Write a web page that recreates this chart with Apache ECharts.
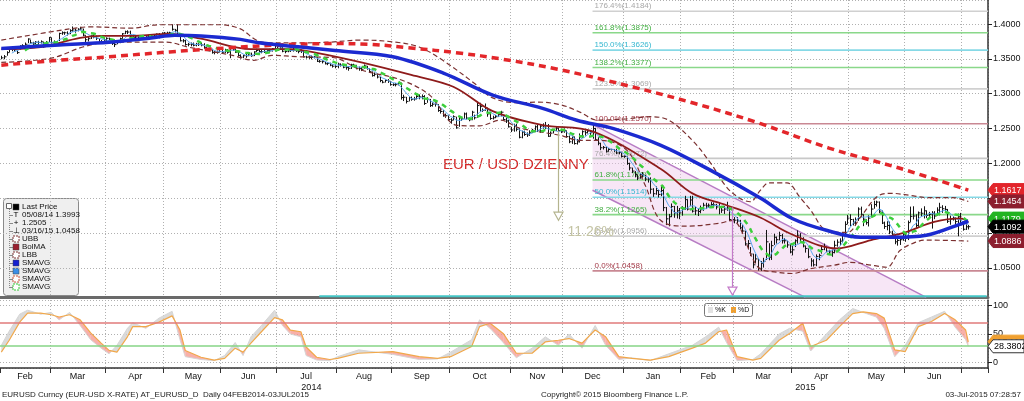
<!DOCTYPE html>
<html><head><meta charset="utf-8">
<script src="https://cdn.jsdelivr.net/npm/echarts@6/dist/echarts.min.js"></script>
<style>html,body{margin:0;padding:0;background:#fff}#c{width:1024px;height:401px}</style>
</head><body><div id="c"></div>
<script>
// ================= DATA =================
const startDate = '2014-02-04', endDate = '2015-07-03';
const padDays = 7;
const monthNames = ['Jan','Feb','Mar','Apr','May','Jun','Jul','Aug','Sep','Oct','Nov','Dec'];
// daily close, in pips above 1.0000
const closePips = [
 3515,3530,3590,3635,3640,3630,3590,3685,3690,3710,3785,3730,3715,3740,3735,3745,3675,3730,3805,
 3735,3740,3730,3865,3875,3875,3860,3905,3915,3910,3925,3930,3840,3775,3790,3830,3825,3795,3740,3750,3770,
 3795,3765,3720,3705,3735,3790,3860,3890,3885,3815,3810,3815,3815,3810,3795,3815,3815,3830,3830,3855,3810,3870,
 3870,3870,3875,3925,3910,3835,3760,3760,3705,3710,3710,3695,3710,3705,3700,3665,3630,3635,3590,3595,3595,3635,
 3595,3630,3595,3660,3640,3595,3550,3525,3545,3545,3570,3545,3600,3620,3605,3605,3605,3620,3615,3645,3690,
 3675,3655,3610,3605,3615,3620,3640,3615,3605,3610,3530,3525,3520,3523,3527,3465,3465,3460,3430,3435,3410,3395,3390,
 3425,3410,3380,3375,3365,3415,3410,3365,3360,3350,3400,3360,3320,3260,3280,3240,3190,3165,3190,3180,3130,
 3130,3130,3150,2945,2950,2890,2945,2920,2925,2960,2955,2960,2860,2920,2830,2850,2845,2760,2745,2685,2685,2630,
 2620,2670,2510,2655,2640,2710,2650,2625,2735,2655,2830,2815,2760,2800,2710,2645,2655,2670,2700,2735,2630,2610,2525,
 2480,2545,2490,2375,2450,2415,2410,2440,2475,2525,2470,2535,2540,2545,2390,2435,2470,2505,2470,2455,
 2470,2385,2310,2380,2285,2310,2380,2455,2440,2465,2440,2500,2340,2290,2225,2230,2175,2200,2200,2185,2150,2160,2100,
 2100,2000,1935,1890,1840,1790,1840,1835,1775,1775,1630,1565,1610,1555,1610,1365,1205,1235,1380,1290,1320,1290,
 1345,1480,1345,1475,1315,1320,1310,1335,1400,1390,1400,1410,1405,1375,1380,1330,1345,1360,1195,1195,
 1185,1175,1075,1030,845,850,700,545,630,495,565,595,875,655,820,940,905,965,890,890,830,730,
 760,890,970,920,815,780,660,600,545,665,680,765,805,740,730,720,825,870,885,985,1125,1215,
 1195,1145,1190,1345,1270,1200,1150,1215,1345,1410,1445,1315,1145,1095,1110,1015,985,875,895,905,985,
 925,1150,1240,1245,1110,1290,1285,1320,1255,1265,1285,1245,1330,1370,1350,1340,1170,1200,1205,1165,1235,1150,
 1055,1090,1092
];
// daily high minus close (pips)
const hiOffPips = [
 30,25,20,15,20,25,40,10,20,25,10,45,30,15,25,20,70,25,10,
 70,25,20,10,20,15,35,20,50,25,15,30,95,65,25,10,25,40,55,20,30,
 15,40,60,30,20,15,10,15,25,90,20,25,25,15,25,15,30,15,15,10,60,10,
 15,20,15,70,20,158,85,25,70,20,25,40,20,20,30,60,45,15,55,20,25,10,
 45,15,45,20,40,55,70,40,15,30,25,45,10,25,35,30,25,20,30,10,10,
 25,40,70,20,20,20,20,35,25,25,85,20,30,25,15,60,20,20,35,20,35,25,30,
 20,25,35,40,30,15,20,50,30,35,20,40,40,60,25,45,50,25,15,30,50,
 20,25,15,215,35,65,20,40,30,25,35,30,120,30,95,25,30,90,45,80,30,60,
 30,20,160,20,30,20,80,40,20,45,57,55,30,60,80,80,30,25,20,20,40,50,100,
 45,25,80,130,20,55,35,35,20,20,85,20,35,50,175,25,25,20,40,35,
 30,85,90,20,100,40,50,20,35,15,40,70,170,85,70,20,60,20,10,20,60,20,60,
 15,100,75,50,50,50,20,40,60,30,170,80,60,60,80,315,170,40,45,100,70,70,
 40,55,140,60,220,60,50,60,35,45,25,35,35,45,65,60,40,90,170,45,
 45,55,115,85,190,50,100,160,70,145,35,50,170,200,70,50,45,55,100,40,60,110,
 55,20,70,80,125,40,120,40,80,30,25,60,45,60,30,40,65,40,40,30,45,45,
 75,60,35,25,110,70,50,40,70,55,20,140,180,70,60,150,50,95,40,45,25,
 80,30,140,140,160,20,70,65,70,40,30,70,40,65,50,50,175,50,40,60,45,140,
 100,35,25
];
// daily close minus low (pips)
const loOffPips = [
 20,35,45,40,30,25,20,55,25,20,60,15,25,30,30,25,15,35,65,
 15,30,30,110,30,30,25,50,25,35,30,20,15,35,40,45,30,25,15,30,25,
 40,15,20,35,25,65,70,35,30,15,30,25,25,20,15,25,25,30,25,35,15,60,
 20,45,25,20,30,5,10,25,15,30,30,15,30,20,20,20,15,20,15,30,20,40,
 25,45,20,150,25,10,15,20,35,30,30,15,60,20,15,25,20,30,25,40,45,
 25,20,15,25,20,20,35,15,25,25,10,20,20,30,20,10,20,25,10,25,15,20,25,
 60,20,15,30,35,60,25,15,30,25,40,15,15,15,30,20,25,15,30,25,15,
 20,25,30,30,55,30,55,20,25,40,35,40,20,50,20,35,30,20,30,15,30,20,
 50,50,10,130,30,70,20,20,115,25,175,75,20,45,40,20,25,20,35,60,20,30,10,
 30,90,30,15,90,20,30,45,40,55,20,95,40,50,10,50,40,40,20,20,
 30,15,20,100,15,40,80,90,40,35,30,145,15,30,35,30,20,30,15,20,15,30,15,
 20,20,35,30,40,30,60,40,30,50,65,45,60,45,80,50,90,137,150,70,110,90,
 95,145,20,85,20,60,65,50,80,45,35,50,40,35,110,40,70,40,20,35,
 45,35,20,30,25,85,30,50,60,33,107,90,260,45,205,110,55,70,40,40,40,20,
 80,90,120,40,20,60,20,80,25,140,70,60,50,15,45,60,115,65,60,125,180,85,
 95,35,80,170,35,100,30,120,120,60,65,30,15,35,70,30,35,35,75,75,95,
 50,250,80,50,40,200,50,110,40,50,220,45,80,115,60,50,25,80,25,45,280,40,
 20,45,40
];
// indicator curves: [trading-day index, value]
const sma200Pts = [[0,1.341],[22,1.348],[41,1.353],[64,1.360],[87,1.366],[106,1.370],[125,1.372],[140,1.371],[155,1.366],[175,1.358],[190,1.350],[212,1.335],[240,1.310],[264,1.286],[289,1.257],[315,1.222],[342,1.193],[368,1.1617]];
const smaBluePts = [[0,1.365],[22,1.370],[41,1.374],[57,1.380],[66,1.384],[76,1.383],[91,1.378],[98,1.373],[114,1.367],[127,1.362],[149,1.353],[168,1.330],[187,1.298],[206,1.279],[219,1.262],[233,1.250],[251,1.226],[270,1.190],[289,1.150],[301,1.121],[314,1.104],[327,1.094],[339,1.094],[352,1.097],[365,1.113],[368,1.117]];
const bolMAPts = [[0,1.364],[15,1.367],[30,1.380],[38,1.383],[49,1.383],[64,1.386],[76,1.379],[95,1.364],[110,1.364],[121,1.358],[137,1.345],[156,1.327],[172,1.310],[187,1.275],[206,1.255],[225,1.246],[251,1.192],[263,1.157],[276,1.140],[289,1.122],[301,1.098],[318,1.078],[331,1.090],[343,1.100],[355,1.116],[365,1.121],[368,1.116]];
const ubbPts = [[0,1.377],[26,1.393],[34,1.396],[49,1.394],[60,1.399],[76,1.399],[83,1.399],[91,1.393],[97,1.377],[102,1.373],[114,1.373],[125,1.374],[137,1.377],[150,1.374],[159,1.367],[168,1.348],[180,1.315],[187,1.294],[197,1.287],[204,1.288],[213,1.284],[220,1.274],[227,1.262],[238,1.264],[247,1.267],[254,1.262],[263,1.233],[270,1.200],[276,1.166],[281,1.150],[285,1.145],[289,1.162],[292,1.172],[299,1.172],[304,1.151],[308,1.133],[314,1.104],[322,1.101],[327,1.123],[334,1.154],[339,1.157],[346,1.154],[352,1.151],[362,1.151],[368,1.1454]];
const lbbPts = [[0,1.345],[19,1.351],[31,1.367],[41,1.374],[63,1.374],[71,1.367],[88,1.355],[96,1.348],[103,1.355],[114,1.353],[126,1.352],[137,1.334],[152,1.320],[163,1.298],[173,1.255],[178,1.254],[182,1.254],[190,1.262],[197,1.251],[213,1.240],[220,1.233],[228,1.233],[238,1.219],[245,1.169],[251,1.118],[261,1.110],[273,1.114],[278,1.118],[288,1.051],[295,1.044],[301,1.042],[308,1.049],[317,1.054],[323,1.058],[331,1.054],[337,1.051],[342,1.075],[348,1.087],[352,1.090],[368,1.0886]];
// Fibonacci retracement levels
const fibPct = ['176.4%','161.8%','150.0%','138.2%','123.6%','100.0%','76.4%','61.8%','50.0%','38.2%','23.6%','0.0%'];
const fibVal = [1.4184,1.3875,1.3626,1.3377,1.3069,1.2570,1.2072,1.1763,1.1514,1.1265,1.0956,1.0458];
const fibStartIdx = 225;
// descending channel [index, price]
const channelUpper = [[225,1.2560],[352,1.0077]];
const channelLower = [[225,1.1615],[306,1.0077]];
// vertical arrows: [index, from, to]
const arrowDefs = [[212,1.2470,1.1185],[278,1.1370,1.0110]];
const arrowLabels = ['11.26%',''];
// horizontal cyan level
const cyanLine = [[121,1.0095],[375,1.0095]];
// last-value tags on the price axis
const mainTagVals = [1.1617,1.1454,1.1179,1.1092,1.0886];
// stochastic oscillator
const stochIdx = [0,3,7,10,15,19,22,26,30,34,38,41,44,48,50,55,60,65,68,70,76,81,85,89,92,95,99,104,107,110,114,116,120,125,128,136,149,159,166,171,179,182,186,191,196,202,207,212,216,221,226,230,235,240,247,254,263,268,273,276,280,286,289,296,300,305,308,314,319,324,328,333,336,340,344,349,354,359,363,367,368];
const stochD = [18,39,71,87,87,84,80,84,75,52,34,21,18,45,63,63,71,82,57,21,9,4,7,25,18,34,54,79,75,57,54,27,9,5,7,16,19,10,7,10,28,63,69,51,16,16,36,39,42,34,57,45,10,7,4,10,25,34,54,57,10,4,7,39,51,69,28,39,63,86,89,86,78,22,19,63,72,86,75,57,36];
const stochK = [30,55,85,92,85,88,75,88,65,40,25,15,30,60,70,60,78,90,40,10,5,3,12,35,12,45,65,92,65,50,45,12,4,3,10,22,14,5,6,18,40,75,60,35,8,25,45,30,50,25,65,30,5,8,3,15,30,45,62,35,3,5,15,50,60,55,20,50,75,95,88,80,60,10,30,70,80,90,62,40,28.38];
const stochTagVals = [36.5, 28.3802];
const stochLevels = [70, 30];
// ================= END DATA =================

const FONT = 'Liberation Sans, Arial, sans-serif';
// trading-day categories
const dates = [];
for (let d = new Date(startDate + 'T00:00:00Z'); d <= new Date(endDate + 'T00:00:00Z'); d.setUTCDate(d.getUTCDate() + 1)) {
  const wd = d.getUTCDay(); if (wd === 0 || wd === 6) continue;
  dates.push(d.toISOString().slice(0, 10));
}
const cats = dates.concat(Array.from({length: padDays}, (_, i) => 'pad' + i));
const monthStarts = new Set();
const segs = [];
dates.forEach((d, i) => { if (i === 0 || d.slice(0, 7) !== dates[i - 1].slice(0, 7)) { monthStarts.add(i); segs.push(i); } });
const labelMap = {};
segs.forEach((s, k) => {
  const e = k + 1 < segs.length ? segs[k + 1] : dates.length;
  if (e - s < 10) return;
  labelMap[s + Math.floor((e - s) / 2)] = monthNames[+dates[s].slice(5, 7) - 1];
});
// year labels centred on the visible span of each year
const years = {};
cats.forEach((c, i) => { const y = c.startsWith('pad') ? dates[dates.length - 1].slice(0, 4) : c.slice(0, 4); (years[y] = years[y] || []).push(i); });
Object.keys(years).forEach(y => { const a = years[y]; labelMap[a[0] + Math.floor((a[a.length - 1] - a[0]) / 2)] = '\n' + y; });

const px = p => 1 + p / 1e4;
const barData = closePips.map((c, i) => [i, px(c - loOffPips[i]), px(c + hiOffPips[i]), px(c)]);
const closes = closePips.map(px);
function sma(arr, n) { return arr.map((_, i) => i < n - 1 ? null : [i, arr.slice(i - n + 1, i + 1).reduce((a, b) => a + b, 0) / n]).filter(Boolean); }

function xAxisCfg(g) {
  return {
    type: 'category', gridIndex: g, data: cats, boundaryGap: true,
    axisLine: {show: true, onZero: false, lineStyle: g === 0 ? {color: '#6a6a6a', width: 3} : {color: '#333', width: 1.5}},
    axisTick: {show: g === 1, interval: i => monthStarts.has(i), length: 5, lineStyle: {color: '#333'}},
    splitLine: {show: true, interval: i => monthStarts.has(i) && i > 0, lineStyle: {color: '#b0b0b0', type: [1, 2]}},
    axisLabel: {show: g === 1, interval: i => labelMap[i] !== undefined, formatter: (v, i) => labelMap[i] || '',
      color: '#111', fontSize: 9, lineHeight: 11, margin: 3, fontFamily: FONT}
  };
}
function lineS(data, color, width, type, smooth, z) {
  return {type: 'line', xAxisIndex: 0, yAxisIndex: 0, data, symbol: 'none', smooth: smooth ? 0.35 : false, z: z || 3,
    lineStyle: {color, width, type: type || 'solid'}, silent: true};
}
const fibLine = ['#d0d0d0','#8ad88a','#86d9e6','#8ad88a','#d0d0d0','#c98893','#c8c8c8','#8ad88a','#86d9e6','#8ad88a','#d0d0d0','#c98893'];
const fibText = ['#a8a8a8','#3fae3f','#35b7d0','#3fae3f','#a8a8a8','#a33a48','#a8a8a8','#3fae3f','#35b7d0','#3fae3f','#a8a8a8','#a33a48'];

function tagRenderer(vals, fills, txt, strokes, shifts) {
  return function (params, api) {
    const i = params.dataIndex;
    const y = api.coord([api.value(0), api.value(1)])[1] + shifts[i];
    const x0 = params.coordSys.x + params.coordSys.width;
    const h = 13, w = 36, n = 5;
    return {type: 'group', children: [
      {type: 'polygon', shape: {points: [[x0, y], [x0 + n, y - h / 2], [x0 + w, y - h / 2], [x0 + w, y + h / 2], [x0 + n, y + h / 2]]},
        style: {fill: fills[i], stroke: strokes[i], lineWidth: 1}},
      {type: 'text', style: {text: vals[i].toFixed(4), x: x0 + n + 1, y: y + 0.5, verticalAlign: 'middle', fill: txt[i], font: '9px ' + FONT}}
    ]};
  };
}

const series = [
  // channel
  {type: 'custom', xAxisIndex: 0, yAxisIndex: 0, data: [[channelUpper[0][0], channelUpper[0][1]]], z: 1, silent: true,
    renderItem(params, api) {
      const u0 = api.coord(channelUpper[0]), u1 = api.coord(channelUpper[1]);
      const l0 = api.coord(channelLower[0]), l1 = api.coord(channelLower[1]);
      return {type: 'group', children: [
        {type: 'polygon', shape: {points: [u0, u1, l1, l0]}, style: {fill: 'rgba(238,200,236,0.45)'}},
        {type: 'line', shape: {x1: u0[0], y1: u0[1], x2: u1[0], y2: u1[1]}, style: {stroke: '#b77cc4', lineWidth: 1.5}},
        {type: 'line', shape: {x1: l0[0], y1: l0[1], x2: l1[0], y2: l1[1]}, style: {stroke: '#b77cc4', lineWidth: 1.5}}
      ]};
    }},
  // fib levels
  {type: 'custom', xAxisIndex: 0, yAxisIndex: 0, data: fibVal.map(v => [fibStartIdx, v]), z: 1, silent: true,
    renderItem(params, api) {
      const i = params.dataIndex;
      const p = api.coord([api.value(0), api.value(1)]);
      const xr = params.coordSys.x + params.coordSys.width;
      return {type: 'group', children: [
        {type: 'line', shape: {x1: p[0], y1: p[1], x2: xr, y2: p[1]}, style: {stroke: fibLine[i], lineWidth: 1.6}},
        {type: 'text', style: {text: fibPct[i] + '(' + fibVal[i].toFixed(4) + ')', x: p[0] + 2, y: p[1] - 1, verticalAlign: 'bottom', fill: fibText[i], font: '8px ' + FONT}}
      ]};
    }},
  // cyan level
  {type: 'line', xAxisIndex: 0, yAxisIndex: 0, data: cyanLine, symbol: 'none', z: 1, lineStyle: {color: '#44c6c6', width: 2}, silent: true},
  // price bars
  {type: 'custom', xAxisIndex: 0, yAxisIndex: 0, data: barData, z: 2, silent: true,
    renderItem(params, api) {
      const i = api.value(0);
      const lo = api.coord([i, api.value(1)]), hi = api.coord([i, api.value(2)]), cl = api.coord([i, api.value(3)]);
      const x = Math.round(lo[0]) + 0.5;
      return {type: 'group', children: [
        {type: 'line', shape: {x1: x, y1: lo[1], x2: x, y2: hi[1]}, style: {stroke: '#151515', lineWidth: 1}},
        {type: 'line', shape: {x1: x, y1: cl[1], x2: x + 2, y2: cl[1]}, style: {stroke: '#151515', lineWidth: 1}}
      ]};
    }},
  lineS(sma(closes, 5), '#5aa6ee', 1, 'solid', false, 3),
  lineS(ubbPts, '#7b3030', 1.2, [5, 3], true, 3),
  lineS(lbbPts, '#7b3030', 1.2, [5, 3], true, 3),
  lineS(bolMAPts, '#8e1b1b', 1.8, 'solid', true, 3),
  lineS(sma(closes, 10), '#3ccf3c', 2.5, [5, 5], false, 4),
  lineS(sma200Pts, '#e3262a', 3.5, [7, 5], true, 4),
  lineS(smaBluePts, '#1b2ad0', 3.5, 'solid', true, 4),
  // arrows
  {type: 'custom', xAxisIndex: 0, yAxisIndex: 0, data: arrowDefs, z: 5, silent: true,
    renderItem(params, api) {
      const i = params.dataIndex;
      const a = api.coord([api.value(0), api.value(1)]), b = api.coord([api.value(0), api.value(2)]);
      const col = i === 0 ? '#b4b48e' : '#c47ac9';
      const x = Math.round(a[0]) + 0.5;
      const ch = [
        {type: 'line', shape: {x1: x, y1: a[1], x2: x, y2: b[1] - 8}, style: {stroke: col, lineWidth: 1.2}},
        {type: 'polygon', shape: {points: [[x - 4.5, b[1] - 8], [x + 4.5, b[1] - 8], [x, b[1]]]}, style: {fill: '#fff', stroke: col, lineWidth: 1.2}}
      ];
      if (arrowLabels[i]) ch.push({type: 'text', style: {text: arrowLabels[i], x: x + 9, y: b[1] + 12, verticalAlign: 'middle', fill: '#c4c4a4', font: '14px ' + FONT}});
      return {type: 'group', children: ch};
    }},
  // price tags
  {type: 'custom', xAxisIndex: 0, yAxisIndex: 0, data: mainTagVals.map(v => [cats.length - 1, v]), z: 10, silent: true,
    renderItem: tagRenderer(mainTagVals, ['#e2252b', '#8c1e2e', '#22b422', '#000000', '#8c1e2e'], ['#fff', '#fff', '#fff', '#fff', '#fff'],
      ['#e2252b', '#8c1e2e', '#22b422', '#000', '#8c1e2e'], [0, 0, -2, 0, 0])},
  // stochastic fill between K and D
  {type: 'custom', xAxisIndex: 1, yAxisIndex: 1, data: stochIdx.map((x, i) => [x, stochK[i], stochD[i]]), z: 1, silent: true,
    renderItem(params, api) {
      const i = params.dataIndex;
      if (i >= stochIdx.length - 1) return null;
      const k0 = api.coord([stochIdx[i], stochK[i]]), d0 = api.coord([stochIdx[i], stochD[i]]);
      const k1 = api.coord([stochIdx[i + 1], stochK[i + 1]]), d1 = api.coord([stochIdx[i + 1], stochD[i + 1]]);
      const s0 = stochK[i] - stochD[i], s1 = stochK[i + 1] - stochD[i + 1];
      const col = s => s >= 0 ? 'rgba(205,205,205,0.75)' : 'rgba(246,150,140,0.75)';
      if (s0 * s1 < 0) {
        const t = s0 / (s0 - s1);
        const P = [k0[0] + (k1[0] - k0[0]) * t, k0[1] + (k1[1] - k0[1]) * t];
        return {type: 'group', children: [
          {type: 'polygon', shape: {points: [k0, P, d0]}, style: {fill: col(s0)}},
          {type: 'polygon', shape: {points: [P, k1, d1]}, style: {fill: col(s1)}}
        ]};
      }
      return {type: 'polygon', shape: {points: [k0, k1, d1, d0]}, style: {fill: col(s0 !== 0 ? s0 : s1)}};
    }},
  {type: 'line', xAxisIndex: 1, yAxisIndex: 1, data: stochIdx.map((x, i) => [x, stochK[i]]), symbol: 'none', z: 3, silent: true,
    lineStyle: {color: '#d6d6d6', width: 1},
    markLine: {silent: true, symbol: 'none', label: {show: false},
      data: [{yAxis: stochLevels[0], lineStyle: {color: '#e07a7a', width: 1.5, type: 'solid'}}, {yAxis: stochLevels[1], lineStyle: {color: '#86d486', width: 1.5, type: 'solid'}}]}},
  {type: 'line', xAxisIndex: 1, yAxisIndex: 1, data: stochIdx.map((x, i) => [x, stochD[i]]), symbol: 'none', z: 4, silent: true,
    lineStyle: {color: '#f1a84a', width: 1.2}},
  {type: 'custom', xAxisIndex: 1, yAxisIndex: 1, data: stochTagVals.map(v => [cats.length - 1, v]), z: 10, silent: true,
    renderItem: tagRenderer(stochTagVals, ['#f0a030', '#ffffff'], ['#fff', '#000'], ['#f0a030', '#333'], [0, 0])}
];

// legend box (top-left of lower half)
const legendRows = [
  ['sq', '#000', 'Last Price'], ['T', '#000', '05/08/14 1.3993'], ['+', '#000', '1.2505'], ['⊥', '#000', '03/16/15 1.0458'],
  ['dash', '#7b3030', 'UBB'], ['sq', '#9c1f2f', 'BolMA'], ['dash', '#7b3030', 'LBB'], ['sq', '#1420d0', 'SMAVG'],
  ['sq', '#3a8ee6', 'SMAVG'], ['dash', '#c8553a', 'SMAVG'], ['dash', '#37c837', 'SMAVG']
];
const lg = [{type: 'rect', shape: {x: 3.5, y: 198.5, width: 75, height: 97, r: 3}, style: {fill: '#efefef', stroke: '#8a8a8a', lineWidth: 1}},
  {type: 'rect', shape: {x: 6.5, y: 203.5, width: 5, height: 5}, style: {fill: '#fff', stroke: '#666'}},
  {type: 'line', shape: {x1: 9.5, y1: 209, x2: 9.5, y2: 288}, style: {stroke: '#888', lineWidth: 1, lineDash: [1, 1]}}];
legendRows.forEach((r, k) => {
  const y = 207 + k * 8;
  if (k > 0) lg.push({type: 'line', shape: {x1: 9.5, y1: y + 0.5, x2: 13, y2: y + 0.5}, style: {stroke: '#888'}});
  if (r[0] === 'sq') lg.push({type: 'rect', shape: {x: 13, y: y - 3, width: 6, height: 6}, style: {fill: r[1], stroke: '#444', lineWidth: 0.5}});
  else if (r[0] === 'dash') lg.push({type: 'rect', shape: {x: 13, y: y - 3, width: 6, height: 6}, style: {fill: '#fff', stroke: r[1], lineWidth: 1, lineDash: [2, 1]}});
  else lg.push({type: 'text', style: {text: r[0], x: 16, y: y, align: 'center', verticalAlign: 'middle', fill: '#000', font: '8px ' + FONT}});
  lg.push({type: 'text', style: {text: r[2], x: 22, y: y, verticalAlign: 'middle', fill: '#111', font: '8px ' + FONT}});
});

const graphic = lg.concat([
  {type: 'text', style: {text: 'EUR / USD DZIENNY', x: 443, y: 165, verticalAlign: 'middle', fill: '#d42a2a', font: '15px ' + FONT}},
  {type: 'rect', shape: {x: 704.5, y: 303.5, width: 48, height: 13, r: 2}, style: {fill: '#fff', stroke: '#777'}},
  {type: 'rect', shape: {x: 708, y: 307, width: 5, height: 6}, style: {fill: '#e2e2e2'}},
  {type: 'text', style: {text: '%K', x: 715, y: 310.5, verticalAlign: 'middle', fill: '#111', font: '7px ' + FONT}},
  {type: 'rect', shape: {x: 731, y: 307, width: 5, height: 6}, style: {fill: '#f0a030'}},
  {type: 'text', style: {text: '%D', x: 738, y: 310.5, verticalAlign: 'middle', fill: '#111', font: '7px ' + FONT}},
  {type: 'text', style: {text: 'EURUSD Curncy (EUR-USD X-RATE) AT_EURUSD_D  Daily 04FEB2014-03JUL2015', x: 2, y: 395, verticalAlign: 'middle', fill: '#222', font: '8px ' + FONT}},
  {type: 'text', style: {text: 'Copyright\u00a9 2015 Bloomberg Finance L.P.', x: 541, y: 395, verticalAlign: 'middle', fill: '#222', font: '8px ' + FONT}},
  {type: 'text', style: {text: '03-Jul-2015 07:28:57', x: 1021, y: 395, align: 'right', verticalAlign: 'middle', fill: '#222', font: '8px ' + FONT}}
]);

const option = {
  animation: false,
  backgroundColor: '#fff',
  textStyle: {fontFamily: FONT},
  grid: [{left: 0, right: 36, top: 0, height: 297}, {left: 0, right: 36, top: 300, height: 68}],
  xAxis: [xAxisCfg(0), xAxisCfg(1)],
  yAxis: [
    {type: 'value', gridIndex: 0, position: 'right', min: 1.0083, max: 1.4345, minInterval: 0.05, maxInterval: 0.05,
      axisLine: {show: true, lineStyle: {color: '#333', width: 1.5}}, axisTick: {show: true, length: 4, lineStyle: {color: '#222'}},
      axisLabel: {showMinLabel: false, showMaxLabel: false, formatter: v => v.toFixed(4), color: '#111', fontSize: 9, margin: 5, fontFamily: FONT},
      splitLine: {show: true, lineStyle: {color: '#b0b0b0', type: [1, 2]}}},
    {type: 'value', gridIndex: 1, position: 'right', min: -10, max: 110, minInterval: 50, maxInterval: 50,
      axisLine: {show: true, lineStyle: {color: '#333', width: 1.5}}, axisTick: {show: true, length: 4, lineStyle: {color: '#222'}},
      axisLabel: {showMinLabel: false, showMaxLabel: false, color: '#111', fontSize: 9, margin: 5, fontFamily: FONT},
      splitLine: {show: true, lineStyle: {color: '#b0b0b0', type: [1, 2]}}}
  ],
  series,
  graphic
};
const chart = echarts.init(document.getElementById('c'), null, {renderer: 'canvas', width: 1024, height: 401});
chart.setOption(option);
</script></body></html>
